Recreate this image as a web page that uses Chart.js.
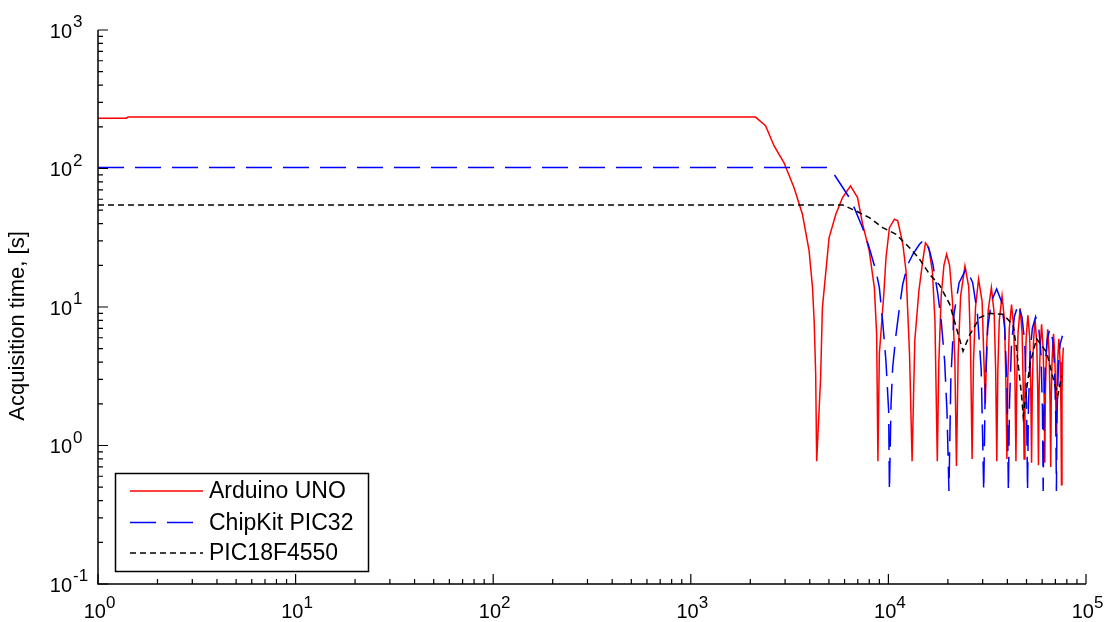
<!DOCTYPE html>
<html>
<head>
<meta charset="utf-8">
<script src="https://cdn.jsdelivr.net/npm/chart.js@4/dist/chart.umd.min.js"></script>
<style>
  html, body { margin: 0; padding: 0; background: #fff; }
  #chart { display: block; }
</style>
</head>
<body>
<canvas id="chart" width="1104" height="622"></canvas>
<script>
// [sampling frequency, acquisition time] pairs
const arduinoUno = [
  [1, 231], [1.39, 231], [1.42, 235], [2125, 235],
  [2390, 204], [2635, 146], [2963, 110], [3327, 73], [3670, 47], [3970, 25.4], [4130, 13.8], [4210, 7.9], [4285, 3.3], [4335, 0.77],
  [4540, 3.1], [4635, 9.9], [5010, 31.7], [5420, 46.8], [5860, 61.7], [6430, 75], [6980, 61.7], [7400, 39.8], [8000, 25.4], [8490, 13.8], [8720, 6.4], [8850, 0.77],
  [9000, 4.6], [9480, 12.4], [9725, 22.7], [10120, 37.4], [10730, 43.1], [11150, 41.9], [11830, 28.5], [12280, 18.2], [12790, 4.6], [13180, 0.77],
  [13600, 5.7], [14260, 13], [14950, 22], [15400, 29], [16000, 27], [16700, 18], [17200, 8], [17680, 0.77],
  [18000, 4], [18500, 12], [19100, 20], [19700, 24], [20400, 20], [21100, 11], [21700, 4], [22100, 0.71],
  [22550, 4.5], [23200, 12], [24400, 19.8], [25500, 14], [26050, 5], [26520, 0.8],
  [26950, 4], [27600, 10], [28600, 15.9], [29800, 11], [30450, 4], [30940, 2.0],
  [31400, 5], [32000, 9.5], [33200, 13.8], [34300, 9], [34900, 3.5], [35360, 0.77],
  [35800, 3.5], [36400, 8], [37600, 12], [38700, 8], [39300, 3], [39780, 0.8],
  [40200, 3], [40900, 7], [42000, 10.4], [43100, 7], [43700, 3], [44200, 0.77],
  [44650, 3], [45300, 6.5], [46400, 9.8], [47500, 6.5], [48150, 2.5], [48620, 0.8],
  [49100, 2.8], [49800, 6], [50800, 8.7], [51900, 6], [52550, 2.5], [53040, 0.75],
  [53500, 2.6], [54200, 5.5], [55200, 8.2], [56300, 5.6], [57000, 2.4], [57460, 0.72],
  [57900, 2.5], [58600, 5], [59600, 7.5], [60700, 5], [61400, 2.2], [61880, 0.75],
  [62300, 2.3], [63000, 4.6], [64000, 6.9], [65100, 4.6], [65800, 2], [66300, 0.7],
  [66700, 2.2], [67400, 4.3], [68500, 6.4], [69600, 4.3], [70300, 2], [70720, 1.2],
  [71100, 2.2], [71800, 4], [72900, 5.9], [74000, 4], [74700, 1.8], [75140, 0.52],
  [75600, 2.4], [76200, 4.2], [76800, 5.1]
];

const chipkitPic32 = [
  [1, 101.5], [4950, 101.5], [5170, 96.3], [6340, 61.7], [6715, 52.2], [7400, 37.4], [8000, 26.8], [8650, 18.2], [9000, 13.8], [9350, 7.9], [9720, 4.06], [10030, 1.77], [10120, 0.47],
  [10310, 1.98], [10510, 3.64], [10930, 6.34], [11370, 9.88], [11820, 14.6], [12530, 20.3], [13290, 24], [14370, 28.4], [15240, 30.9], [16160, 25.4], [16800, 20.3], [17810, 12.3], [18510, 7.9], [19260, 4.06], [19790, 1.77], [20250, 0.47],
  [20700, 3], [21500, 9], [22800, 15], [24800, 19], [26700, 15], [28200, 9], [29500, 3.5], [30360, 0.47],
  [30900, 2.5], [31800, 7], [33200, 11], [35300, 13.5], [37300, 11], [38800, 7], [39900, 2.5], [40480, 0.47],
  [41000, 2], [42000, 5.5], [43400, 8.5], [45400, 10.5], [47400, 8.5], [49000, 5.5], [50000, 2], [50600, 0.47],
  [51100, 1.8], [52100, 4.5], [53500, 7], [55600, 8.5], [57700, 7], [59200, 4.5], [60200, 1.8], [60720, 0.47],
  [61200, 1.6], [62200, 3.8], [63600, 5.8], [65700, 7], [67800, 5.8], [69300, 3.8], [70300, 1.6], [70840, 0.47],
  [71300, 1.6], [72500, 3.8], [74000, 5.4], [76000, 6.2]
];

const pic18f4550 = [
  [1, 54.6], [5860, 54.6], [6845, 49.4], [8010, 44.2], [9355, 37.4], [10930, 33.5], [12790, 26.8], [14370, 22.2],
  [16160, 17.2], [18160, 14.4], [20420, 10.5], [22060, 7.1], [23850, 4.8], [25800, 6.3], [29000, 8.4], [32610, 9.0],
  [38090, 8.85], [42800, 7.4], [44490, 5.0], [47190, 2.3], [48130, 1.63], [52050, 3.9], [56230, 5.9], [63220, 4.7],
  [69770, 2.7], [72070, 2.3], [75340, 3.2]
];

const seriesNames = ['Arduino UNO', 'ChipKit PIC32', 'PIC18F4550'];
const xDecades = [0, 1, 2, 3, 4, 5];
const yDecades = [-1, 0, 1, 2, 3];
const yTitle = 'Acquisition time, [s]';

const FONT = '"Liberation Sans", Arial, sans-serif';

function toPoints(pairs) {
    return pairs.map(p => ({ x: p[0], y: p[1] }));
}

// MATLAB style axes: only left and bottom lines, ticks pointing inward
const matlabAxes = {
    id: 'matlabAxes',
    afterDraw(chart) {
        const { ctx, chartArea: { left, right, top, bottom }, scales: { x, y } } = chart;
        ctx.save();
        ctx.strokeStyle = '#000';
        ctx.lineWidth = 1.5;
        ctx.beginPath();
        ctx.moveTo(left, top);
        ctx.lineTo(left, bottom);
        ctx.lineTo(right, bottom);
        ctx.stroke();

        ctx.lineWidth = 1.2;
        ctx.beginPath();
        for (let k = xDecades[0]; k <= xDecades[xDecades.length - 1]; k++) {
            for (let m = 1; m <= 9; m++) {
                const v = m * Math.pow(10, k);
                if (v > x.max * 1.0001) break;
                const px = x.getPixelForValue(v);
                const len = m === 1 ? 10 : 5;
                ctx.moveTo(px, bottom);
                ctx.lineTo(px, bottom - len);
            }
        }
        for (let k = yDecades[0]; k <= yDecades[yDecades.length - 1]; k++) {
            for (let m = 1; m <= 9; m++) {
                const v = m * Math.pow(10, k);
                if (v > y.max * 1.0001) break;
                const py = y.getPixelForValue(v);
                const len = m === 1 ? 10 : 5;
                ctx.moveTo(left, py);
                ctx.lineTo(left + len, py);
            }
        }
        ctx.stroke();

        // tick labels 10^k
        ctx.fillStyle = '#000';
        ctx.textAlign = 'left';
        ctx.textBaseline = 'alphabetic';
        xDecades.forEach(k => {
            const px = x.getPixelForValue(Math.pow(10, k));
            ctx.font = '20px ' + FONT;
            const wBase = ctx.measureText('10').width;
            ctx.font = '17px ' + FONT;
            const wExp = ctx.measureText(String(k)).width;
            const x0 = px - (wBase + wExp) / 2 + 1.5;
            ctx.font = '20px ' + FONT;
            ctx.fillText('10', x0, bottom + 34);
            ctx.font = '17px ' + FONT;
            ctx.fillText(String(k), x0 + wBase, bottom + 24);
        });
        yDecades.forEach(k => {
            const py = y.getPixelForValue(Math.pow(10, k));
            ctx.font = '20px ' + FONT;
            ctx.textAlign = 'right';
            ctx.fillText('10', 72, py + 7.5);
            ctx.font = '17px ' + FONT;
            ctx.textAlign = 'left';
            ctx.fillText(String(k), 73, py - 3);
        });

        // y axis title
        ctx.save();
        ctx.translate(18, 326);
        ctx.rotate(-Math.PI / 2);
        ctx.font = '22px ' + FONT;
        ctx.textAlign = 'center';
        ctx.textBaseline = 'middle';
        ctx.fillText(yTitle, 0, 0);
        ctx.restore();
        ctx.restore();
    }
};

// boxed legend in the lower left corner
const boxLegend = {
    id: 'boxLegend',
    afterDraw(chart) {
        const { ctx } = chart;
        const bx = 115.5, by = 473.5, bw = 253, bh = 98;
        const rows = [491, 522.5, 553];
        ctx.save();
        ctx.fillStyle = '#fff';
        ctx.fillRect(bx, by, bw, bh);
        ctx.strokeStyle = '#000';
        ctx.lineWidth = 1.5;
        ctx.strokeRect(bx, by, bw, bh);
        chart.data.datasets.forEach((ds, i) => {
            ctx.beginPath();
            ctx.strokeStyle = ds.borderColor;
            ctx.lineWidth = ds.borderWidth;
            ctx.setLineDash(ds.borderDash || []);
            ctx.moveTo(130, rows[i]);
            ctx.lineTo(203, rows[i]);
            ctx.stroke();
            ctx.setLineDash([]);
            ctx.fillStyle = '#000';
            ctx.font = '23px ' + FONT;
            ctx.textAlign = 'left';
            ctx.textBaseline = 'middle';
            ctx.fillText(ds.label, 209, rows[i] + 1);
        });
        ctx.restore();
    }
};

const config = {
    type: 'line',
    data: {
        datasets: [{
            label: seriesNames[0],
            data: toPoints(arduinoUno),
            borderColor: '#ff0000',
            borderWidth: 1.5,
            order: 3
        }, {
            label: seriesNames[1],
            data: toPoints(chipkitPic32),
            borderColor: '#0000ff',
            borderWidth: 1.5,
            borderDash: [26, 11],
            order: 2
        }, {
            label: seriesNames[2],
            data: toPoints(pic18f4550),
            borderColor: '#000000',
            borderWidth: 1.5,
            borderDash: [6, 4],
            order: 1
        }]
    },
    options: {
        responsive: false,
        animation: false,
        layout: { padding: { left: 98, right: 18, top: 30, bottom: 38 } },
        elements: {
            point: { radius: 0 },
            line: { tension: 0, fill: false }
        },
        scales: {
            x: { type: 'logarithmic', min: 1, max: 100000, display: false },
            y: { type: 'logarithmic', min: 0.1, max: 1000, display: false }
        },
        plugins: {
            legend: { display: false },
            tooltip: { enabled: false }
        }
    },
    plugins: [matlabAxes, boxLegend]
};

const myChart = new Chart(document.getElementById('chart').getContext('2d'), config);
</script>
</body>
</html>
